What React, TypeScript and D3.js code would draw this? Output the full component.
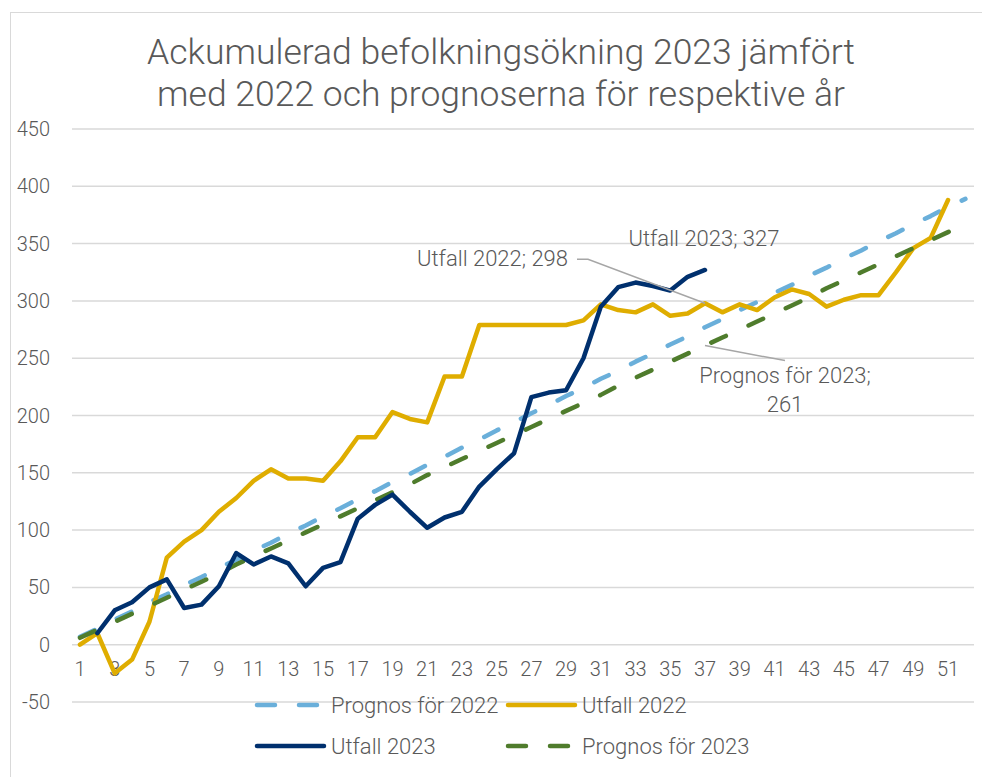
import React from "react";
import * as d3 from "d3";

const WIDTH = 982;
const HEIGHT = 777;

const weeks = d3.range(1, 53);
const yTicks = [-50, 0, 50, 100, 150, 200, 250, 300, 350, 400, 450];

const prognos2022 = [
  7, 14, 22, 29, 37, 44, 52, 59, 67, 74, 82, 89, 97, 104, 112, 119, 127, 134,
  142, 149, 157, 164, 172, 179, 187, 194, 202, 209, 217, 224, 232, 239, 247,
  254, 262, 269, 277, 284, 292, 299, 307, 314, 322, 329, 337, 344, 352, 359,
  367, 374, 382, 389,
];
const utfall2022 = [
  0, 10, -25, -13, 20, 76, 90, 100, 116, 128, 143, 153, 145, 145, 143, 160, 181,
  181, 203, 197, 194, 234, 234, 279, 279, 279, 279, 279, 279, 283, 297, 292,
  290, 297, 287, 289, 298, 290, 297, 292, 303, 310, 306, 295, 301, 305, 305,
  325, 346, 355, 388, null,
];
const utfall2023 = [
  null, 10, 30, 37, 50, 57, 32, 35, 51, 80, 70, 77, 71, 51, 67, 72, 110, 122,
  131, 116, 102, 111, 116, 138, 153, 167, 216, 220, 222, 250, 295, 312, 316,
  313, 309, 321, 327,
];
const prognos2023 = [
  6, 13, 20, 27, 34, 41, 48, 55, 62, 70, 77, 84, 91, 98, 105, 112, 119, 126,
  133, 140, 148, 155, 162, 169, 176, 183, 190, 197, 204, 211, 218, 226, 233,
  240, 247, 254, 261, 268, 275, 282, 289, 296, 303, 311, 318, 325, 332, 339,
  346, 353, 360, 368,
];

const series = [
  { name: "Prognos för 2022", values: prognos2022, color: "#6aafda", dashed: true },
  { name: "Utfall 2022", values: utfall2022, color: "#dfad00", dashed: false },
  { name: "Prognos för 2023", values: prognos2023, color: "#4f7c2c", dashed: true },
  { name: "Utfall 2023", values: utfall2023, color: "#00306e", dashed: false },
];

const legendRows = [
  ["Prognos för 2022", "Utfall 2022"],
  ["Utfall 2023", "Prognos för 2023"],
];

const FONT = "Roboto, 'Open Sans', sans-serif";
const TEXT = "#595959";
const DASH = "16 25";

export default function App() {
  const x = d3.scaleLinear().domain([1, 52]).range([80, 965.4]);
  const y = d3.scaleLinear().domain([-50, 450]).range([702, 129]);

  const line = d3
    .line<number | null>()
    .defined((d) => d !== null && d !== undefined)
    .x((_, i) => x(weeks[i]))
    .y((d) => y(d as number));

  const byName = (n: string) => series.find((s) => s.name === n)!;

  // annotation anchors
  const u23x = x(37), u23y = y(utfall2023[36] as number);
  const u22x = x(37), u22y = y(utfall2022[36] as number);
  const p23x = x(37), p23y = y(prognos2023[36]);

  return (
    <svg
      width={WIDTH}
      height={HEIGHT}
      style={{ position: "absolute", left: 0, top: 0, background: "#fff" }}
      fontFamily={FONT}
    >
      <rect x={10.5} y={12.5} width={WIDTH} height={HEIGHT} fill="none" stroke="#d9d9d9" />

      <text x={501} y={64} textAnchor="middle" fontSize={35.5} fontWeight={300} fill={TEXT}>
        Ackumulerad befolkningsökning 2023 jämfört
      </text>
      <text x={501} y={106} textAnchor="middle" fontSize={35.5} fontWeight={300} fill={TEXT}>
        med 2022 och prognoserna för respektive år
      </text>

      {yTicks.map((t) => (
        <g key={t}>
          <line x1={72} x2={974} y1={y(t)} y2={y(t)} stroke="#d9d9d9" strokeWidth={1.5} />
          <text x={50} y={y(t)} dy="0.35em" textAnchor="end" fontSize={20} fontWeight={300} fill={TEXT}>
            {t}
          </text>
        </g>
      ))}

      {weeks
        .filter((w) => w % 2 === 1)
        .map((w) => (
          <text key={w} x={x(w)} y={y(0) + 24} dy="0.35em" textAnchor="middle" fontSize={20} fontWeight={300} fill={TEXT}>
            {w}
          </text>
        ))}

      {series.map((s) => (
        <path
          key={s.name}
          d={line(s.values as (number | null)[]) || ""}
          fill="none"
          stroke={s.color}
          strokeWidth={4.5}
          strokeLinejoin="round"
          strokeLinecap="round"
          strokeDasharray={s.dashed ? DASH : undefined}
        />
      ))}

      {/* data labels */}
      <text x={u23x - 1} y={u23y - 24} textAnchor="middle" fontSize={22} fontWeight={300} fill={TEXT}>
        Utfall 2023; 327
      </text>
      <polyline
        points={`577,${u22y - 44} 588,${u22y - 44} ${u22x},${u22y}`}
        fill="none"
        stroke="#a6a6a6"
        strokeWidth={1.5}
      />
      <text x={568} y={u22y - 37} textAnchor="end" fontSize={22} fontWeight={300} fill={TEXT}>
        Utfall 2022; 298
      </text>
      <line x1={p23x} y1={p23y} x2={785} y2={p23y + 15} stroke="#a6a6a6" strokeWidth={1.5} />
      <text x={785} y={p23y + 37} textAnchor="middle" fontSize={22} fontWeight={300} fill={TEXT}>
        Prognos för 2023;
      </text>
      <text x={785} y={p23y + 66} textAnchor="middle" fontSize={22} fontWeight={300} fill={TEXT}>
        261
      </text>

      {legendRows.map((row, ri) =>
        row.map((name, ci) => {
          const s = byName(name);
          const lx = 255 + ci * 251;
          const ly = 705 + ri * 41;
          return (
            <g key={name}>
              <line
                x1={lx + 2}
                x2={s.dashed ? lx + 62 : lx + 69}
                y1={ly}
                y2={ly}
                stroke={s.color}
                strokeWidth={4.5}
                strokeLinecap="round"
                strokeDasharray={s.dashed ? "18 24" : undefined}
              />
              <text x={lx + 76} y={ly} dy="0.35em" fontSize={22} fontWeight={300} fill={TEXT}>
                {name}
              </text>
            </g>
          );
        })
      )}
    </svg>
  );
}
